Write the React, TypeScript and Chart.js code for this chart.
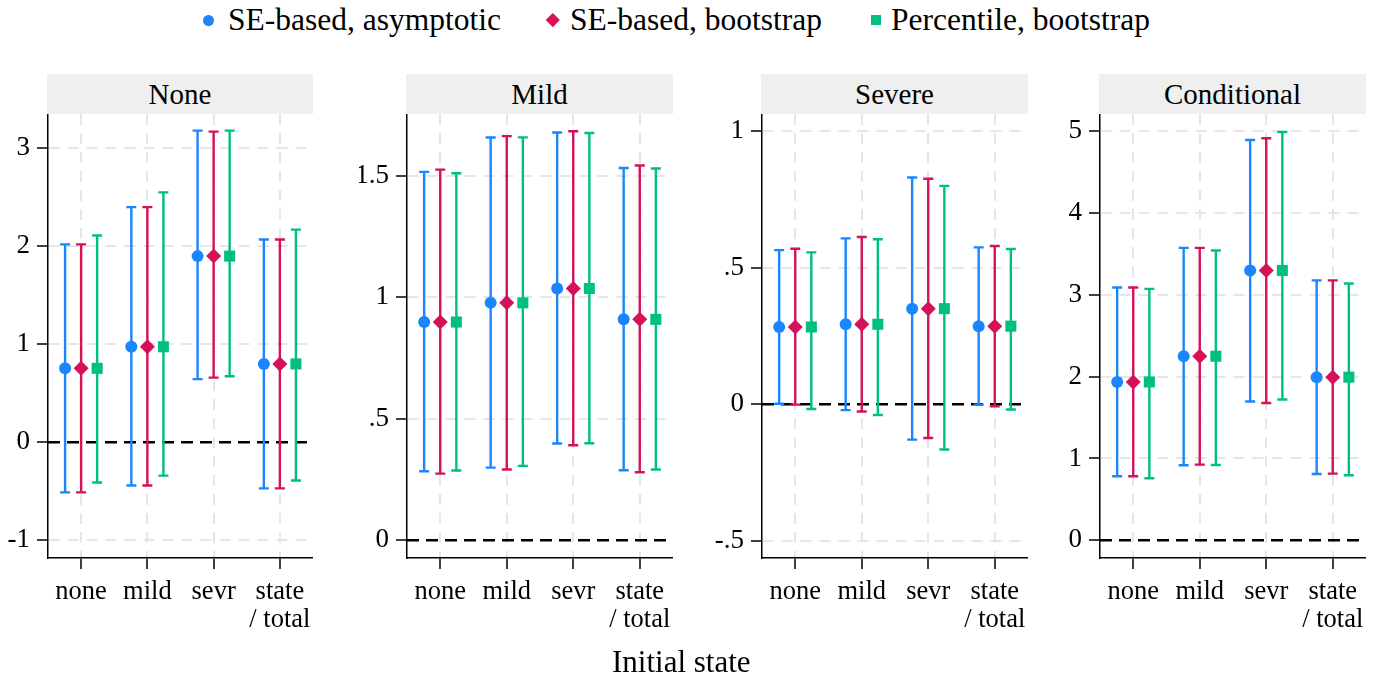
import React, { useEffect, useRef } from "react";
import { Chart, registerables } from "chart.js";

Chart.register(...registerables);

const FONT = "'Liberation Serif', 'Times New Roman', serif";

// ---------- data ----------
const categories: string[][] = [["none"], ["mild"], ["sevr"], ["state", "/ total"]];
const panelTitles = ["None", "Mild", "Severe", "Conditional"];
const seriesNames = ["SE-based, asymptotic", "SE-based, bootstrap", "Percentile, bootstrap"];
const seriesColors = ["#1a85ff", "#d41159", "#00bf7f"];
const seriesShapes = ["circle", "rectRot", "rect"];
const xTitle = "Initial state";

// Panel "None"
const noneEst = [0.755, 0.975, 1.9, 0.8];
const noneAsymLo = [-0.51, -0.44, 0.645, -0.47];
const noneAsymHi = [2.02, 2.4, 3.18, 2.07];
const noneBootLo = [-0.51, -0.44, 0.66, -0.47];
const noneBootHi = [2.02, 2.4, 3.17, 2.07];
const nonePctLo = [-0.41, -0.34, 0.675, -0.39];
const nonePctHi = [2.11, 2.55, 3.18, 2.17];
const noneTicks = [-1, 0, 1, 2, 3];
const noneTickLabels = ["-1", "0", "1", "2", "3"];

// Panel "Mild"
const mildEst = [0.898, 0.977, 1.036, 0.909];
const mildAsymLo = [0.284, 0.299, 0.398, 0.288];
const mildAsymHi = [1.516, 1.657, 1.678, 1.532];
const mildBootLo = [0.274, 0.291, 0.391, 0.28];
const mildBootHi = [1.525, 1.663, 1.683, 1.542];
const mildPctLo = [0.287, 0.306, 0.399, 0.291];
const mildPctHi = [1.51, 1.658, 1.676, 1.53];
const mildTicks = [0, 0.5, 1, 1.5];
const mildTickLabels = ["0", ".5", "1", "1.5"];

// Panel "Severe"
const sevrEst = [0.283, 0.293, 0.35, 0.286];
const sevrAsymLo = [0.002, -0.021, -0.129, -0.001];
const sevrAsymHi = [0.564, 0.607, 0.83, 0.574];
const sevrBootLo = [-0.001, -0.026, -0.123, -0.007];
const sevrBootHi = [0.569, 0.612, 0.825, 0.579];
const sevrPctLo = [-0.017, -0.039, -0.165, -0.019];
const sevrPctHi = [0.556, 0.604, 0.799, 0.568];
const sevrTicks = [-0.5, 0, 0.5, 1];
const sevrTickLabels = ["-.5", "0", ".5", "1"];

// Panel "Conditional"
const condEst = [1.935, 2.249, 3.297, 1.993];
const condAsymLo = [0.782, 0.917, 1.696, 0.811];
const condAsymHi = [3.089, 3.573, 4.89, 3.175];
const condBootLo = [0.782, 0.925, 1.678, 0.815];
const condBootHi = [3.089, 3.573, 4.911, 3.175];
const condPctLo = [0.758, 0.921, 1.72, 0.795];
const condPctHi = [3.072, 3.541, 4.988, 3.138];
const condTicks = [0, 1, 2, 3, 4, 5];
const condTickLabels = ["0", "1", "2", "3", "4", "5"];

// ---------- layout / style ----------
const seriesOffsets = [-0.242, 0, 0.242];
const PLOT_TOP = 114;
const PLOT_BOTTOM = 558;
const Y_AXIS_W = 48;
const CANVAS_H = 540;

type PanelDef = {
  title: string;
  est: number[];
  lo: number[][];
  hi: number[][];
  ticks: number[];
  tickLabels: string[];
  yMin: number;
  yMax: number;
  left: number;
  right: number;
};

const panels: PanelDef[] = [
  { title: panelTitles[0], est: noneEst, lo: [noneAsymLo, noneBootLo, nonePctLo], hi: [noneAsymHi, noneBootHi, nonePctHi], ticks: noneTicks, tickLabels: noneTickLabels, yMin: -1.18, yMax: 3.35, left: 48, right: 313 },
  { title: panelTitles[1], est: mildEst, lo: [mildAsymLo, mildBootLo, mildPctLo], hi: [mildAsymHi, mildBootHi, mildPctHi], ticks: mildTicks, tickLabels: mildTickLabels, yMin: -0.073, yMax: 1.754, left: 407, right: 673 },
  { title: panelTitles[2], est: sevrEst, lo: [sevrAsymLo, sevrBootLo, sevrPctLo], hi: [sevrAsymHi, sevrBootHi, sevrPctHi], ticks: sevrTicks, tickLabels: sevrTickLabels, yMin: -0.562, yMax: 1.062, left: 762, right: 1028 },
  { title: panelTitles[3], est: condEst, lo: [condAsymLo, condBootLo, condPctLo], hi: [condAsymHi, condBootHi, condPctHi], ticks: condTicks, tickLabels: condTickLabels, yMin: -0.216, yMax: 5.208, left: 1100, right: 1366 },
];

const errorBarPlugin = {
  id: "errorBars",
  beforeDatasetsDraw(chart: any) {
    const { ctx, chartArea } = chart;
    const x = chart.scales.x;
    const y = chart.scales.y;
    ctx.save();
    // zero reference line
    const y0 = y.getPixelForValue(0);
    ctx.strokeStyle = "#000";
    ctx.lineWidth = 2.5;
    ctx.setLineDash([12, 7]);
    ctx.beginPath();
    ctx.moveTo(chartArea.left, y0);
    ctx.lineTo(chartArea.right, y0);
    ctx.stroke();
    ctx.setLineDash([]);
    // whiskers
    chart.data.datasets.forEach((ds: any) => {
      ctx.strokeStyle = ds.backgroundColor;
      ctx.lineWidth = 2.4;
      ds.data.forEach((pt: any, i: number) => {
        const px = x.getPixelForValue(pt.x);
        const pl = y.getPixelForValue(ds.lo[i]);
        const ph = y.getPixelForValue(ds.hi[i]);
        ctx.beginPath();
        ctx.moveTo(px, pl);
        ctx.lineTo(px, ph);
        ctx.moveTo(px - 5, pl);
        ctx.lineTo(px + 5, pl);
        ctx.moveTo(px - 5, ph);
        ctx.lineTo(px + 5, ph);
        ctx.stroke();
      });
    });
    ctx.restore();
  },
};

function Panel({ p }: { p: PanelDef }) {
  const ref = useRef<HTMLCanvasElement>(null);
  const canvasLeft = p.left - Y_AXIS_W;
  const canvasW = p.right - canvasLeft;
  useEffect(() => {
    const datasets = seriesNames.map((name, s) => ({
      label: name,
      data: p.est.map((v, i) => ({ x: i + 1 + seriesOffsets[s], y: v })),
      lo: p.lo[s],
      hi: p.hi[s],
      backgroundColor: seriesColors[s],
      borderColor: seriesColors[s],
      borderWidth: 0,
      pointStyle: seriesShapes[s],
      pointRadius: s === 0 ? 6 : s === 1 ? 7.5 : 7.8,
      showLine: false,
    }));
    const gridCommon = {
      color: "#e6e6e6",
      lineWidth: 2,
      tickColor: "#000",
      tickLength: 11,
      tickWidth: 1.5,
    };
    const chart = new Chart(ref.current!, {
      type: "scatter",
      data: { datasets: datasets as any },
      options: {
        animation: false,
        responsive: false,
        maintainAspectRatio: false,
        layout: { padding: 0, autoPadding: false },
        plugins: { legend: { display: false }, tooltip: { enabled: false }, title: { display: false } },
        scales: {
          x: {
            type: "linear",
            min: 0.5,
            max: 4.5,
            afterBuildTicks: (scale: any) => {
              scale.ticks = categories.map((_, i) => ({ value: i + 1 }));
            },
            afterFit: (scale: any) => {
              scale.height = CANVAS_H - (PLOT_BOTTOM - PLOT_TOP);
              scale.paddingLeft = 0;
              scale.paddingRight = 0;
            },
            ticks: {
              autoSkip: false,
              maxRotation: 0,
              minRotation: 0,
              padding: 9,
              color: "#000",
              font: { family: FONT, size: 26.5, lineHeight: 1.05 },
              callback: (v: any) => categories[Math.round(Number(v)) - 1],
            },
            grid: gridCommon,
            border: { color: "#000", width: 1.5, dash: [11, 8] },
          },
          y: {
            type: "linear",
            min: p.yMin,
            max: p.yMax,
            afterBuildTicks: (scale: any) => {
              scale.ticks = p.ticks.map((v) => ({ value: v }));
            },
            afterFit: (scale: any) => {
              scale.width = Y_AXIS_W;
              scale.paddingTop = 0;
              scale.paddingBottom = 0;
            },
            ticks: {
              padding: 7,
              color: "#000",
              font: { family: FONT, size: 27 },
              callback: (v: any) => {
                const idx = p.ticks.findIndex((t) => Math.abs(t - Number(v)) < 1e-9);
                return idx >= 0 ? p.tickLabels[idx] : "";
              },
            },
            grid: gridCommon,
            border: { color: "#000", width: 1.5, dash: [11, 8] },
          },
        },
      } as any,
      plugins: [errorBarPlugin],
    });
    return () => chart.destroy();
  }, []);
  return (
    <>
      <div
        style={{
          position: "absolute",
          left: p.left - 1,
          top: 74,
          width: p.right - p.left + 1,
          height: PLOT_TOP - 74,
          background: "#efefef",
          fontFamily: FONT,
          fontSize: 29,
          lineHeight: `${PLOT_TOP - 74}px`,
          textAlign: "center",
          color: "#000",
        }}
      >
        {p.title}
      </div>
      <canvas
        ref={ref}
        width={canvasW}
        height={CANVAS_H}
        style={{ position: "absolute", left: canvasLeft, top: PLOT_TOP, width: canvasW, height: CANVAS_H }}
      />
    </>
  );
}

const legendMarkerX = [208, 553, 876];
const legendTextX = [228, 570, 891];

function LegendMarker({ s }: { s: number }) {
  const c = seriesColors[s];
  const base: React.CSSProperties = { position: "absolute", background: c };
  if (s === 0) return <div style={{ ...base, left: legendMarkerX[s] - 5.5, top: 20 - 5.5, width: 11, height: 11, borderRadius: "50%" }} />;
  if (s === 1)
    return <div style={{ ...base, left: legendMarkerX[s] - 4.8, top: 20 - 4.8, width: 9.6, height: 9.6, transform: "rotate(45deg)" }} />;
  return <div style={{ ...base, left: legendMarkerX[s] - 5, top: 20 - 5, width: 10, height: 10 }} />;
}

export default function App() {
  return (
    <div style={{ position: "absolute", left: 0, top: 0, width: 1375, height: 679, background: "#fff", overflow: "hidden" }}>
      {seriesNames.map((name, s) => (
        <React.Fragment key={name}>
          <LegendMarker s={s} />
          <div
            style={{
              position: "absolute",
              left: legendTextX[s],
              top: 1,
              fontFamily: FONT,
              fontSize: 31.5,
              lineHeight: "38px",
              color: "#000",
              whiteSpace: "nowrap",
            }}
          >
            {name}
          </div>
        </React.Fragment>
      ))}
      {panels.map((p) => (
        <Panel key={p.title} p={p} />
      ))}
      <div
        style={{
          position: "absolute",
          left: 612,
          top: 643,
          fontFamily: FONT,
          fontSize: 31,
          lineHeight: "38px",
          color: "#000",
          whiteSpace: "nowrap",
        }}
      >
        {xTitle}
      </div>
    </div>
  );
}
